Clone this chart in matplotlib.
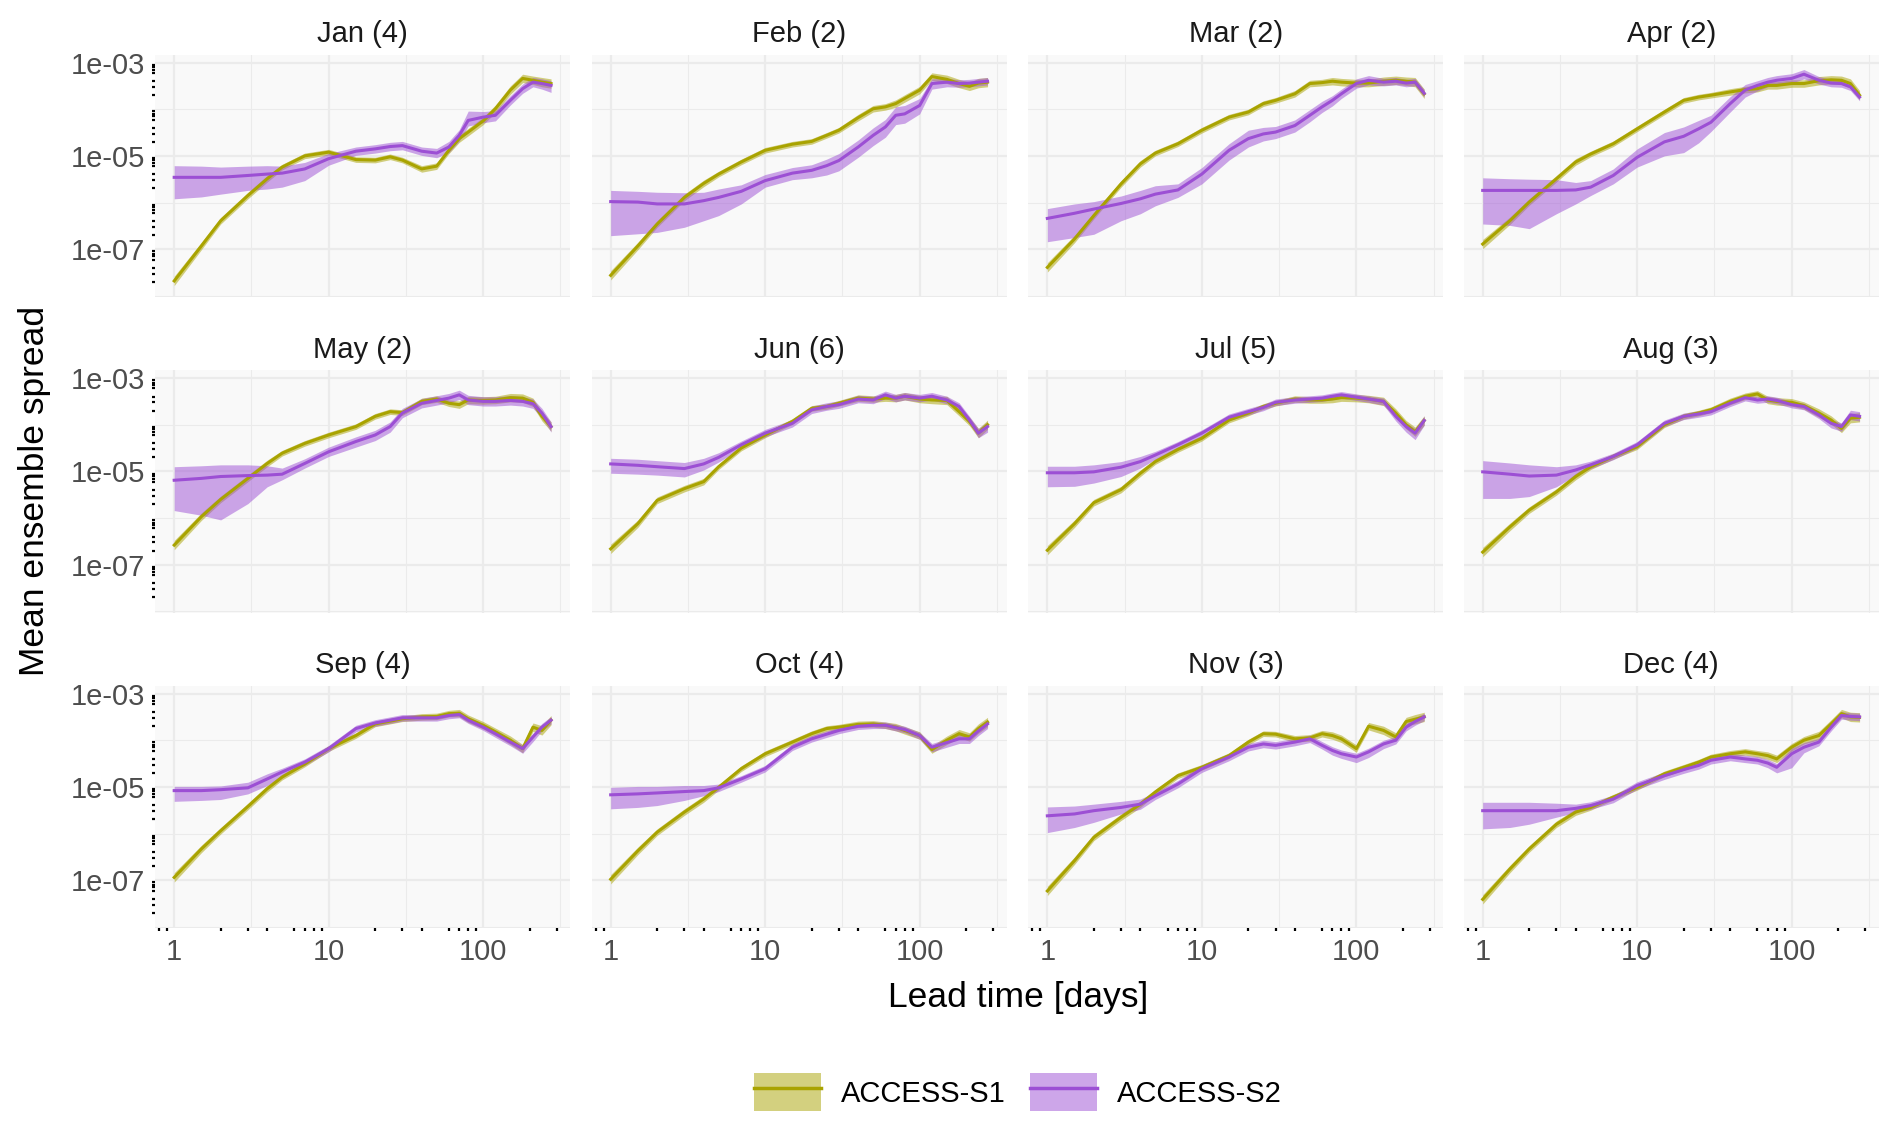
import matplotlib
matplotlib.use("Agg")
import numpy as np
import matplotlib.pyplot as plt
from matplotlib.patches import Patch
from matplotlib.lines import Line2D
from matplotlib.ticker import FixedLocator, FixedFormatter, NullFormatter

plt.rcParams['font.family'] = ['Liberation Sans', 'DejaVu Sans']

# panel titles (month and number of start dates)
panels = ["Jan (4)", "Feb (2)", "Mar (2)", "Apr (2)", "May (2)", "Jun (6)",
          "Jul (5)", "Aug (3)", "Sep (4)", "Oct (4)", "Nov (3)", "Dec (4)"]

# lead times [days] at which the curves were read
lead_days = [1, 1.5, 2, 3, 4, 5, 7, 10, 15, 20, 25, 30, 40, 50, 60, 70, 80,
             100, 120, 150, 180, 210, 240, 275]

# ACCESS-S1: log10 of mean ensemble spread
s1_mean = {
    "Jan (4)": [-7.68, -6.93, -6.39, -5.85, -5.49, -5.24, -5.0, -4.92, -5.08, -5.09, -5.02, -5.09,
                -5.28, -5.22, -4.88, -4.63, -4.49, -4.25, -3.99, -3.59, -3.34, -3.38, -3.42, -3.45],
    "Feb (2)": [-7.56, -6.93, -6.46, -5.89, -5.59, -5.39, -5.13, -4.88, -4.75, -4.69, -4.56, -4.45,
                -4.18, -3.99, -3.95, -3.88, -3.77, -3.59, -3.3, -3.36, -3.45, -3.51, -3.44, -3.42],
    "Mar (2)": [-7.39, -6.78, -6.28, -5.6, -5.17, -4.94, -4.74, -4.45, -4.17, -4.06, -3.88, -3.81,
                -3.67, -3.45, -3.43, -3.4, -3.42, -3.44, -3.44, -3.4, -3.38, -3.4, -3.42, -3.67],
    "Apr (2)": [-6.89, -6.39, -5.99, -5.49, -5.13, -4.96, -4.74, -4.42, -4.06, -3.81, -3.74, -3.7,
                -3.63, -3.58, -3.56, -3.49, -3.49, -3.45, -3.45, -3.39, -3.37, -3.38, -3.45, -3.7],
    "May (2)": [-6.58, -5.97, -5.6, -5.15, -4.83, -4.61, -4.4, -4.22, -4.04, -3.82, -3.72, -3.74,
                -3.5, -3.45, -3.54, -3.57, -3.47, -3.48, -3.47, -3.42, -3.43, -3.52, -3.82, -4.04],
    "Jun (6)": [-6.66, -6.12, -5.62, -5.37, -5.22, -4.9, -4.5, -4.22, -3.93, -3.65, -3.61, -3.54,
                -3.43, -3.45, -3.43, -3.43, -3.39, -3.45, -3.47, -3.48, -3.72, -3.93, -4.18, -4.0],
    "Jul (5)": [-6.69, -6.12, -5.67, -5.39, -5.04, -4.79, -4.53, -4.29, -3.9, -3.75, -3.61, -3.54,
                -3.45, -3.47, -3.47, -3.45, -3.42, -3.43, -3.45, -3.5, -3.75, -4.0, -4.15, -3.91],
    "Aug (3)": [-6.73, -6.19, -5.83, -5.44, -5.11, -4.9, -4.68, -4.47, -4.0, -3.82, -3.75, -3.68,
                -3.5, -3.39, -3.34, -3.47, -3.5, -3.52, -3.59, -3.75, -3.9, -4.08, -3.86, -3.84],
    "Sep (4)": [-6.94, -6.33, -5.94, -5.42, -5.04, -4.79, -4.51, -4.18, -3.9, -3.65, -3.59, -3.54,
                -3.5, -3.49, -3.43, -3.42, -3.54, -3.68, -3.82, -4.0, -4.18, -3.72, -3.79, -3.57],
    "Oct (4)": [-6.98, -6.37, -5.97, -5.54, -5.26, -5.01, -4.61, -4.29, -4.04, -3.86, -3.75, -3.72,
                -3.66, -3.65, -3.68, -3.72, -3.79, -3.9, -4.2, -4.0, -3.86, -3.93, -3.75, -3.61],
    "Nov (3)": [-7.23, -6.58, -6.08, -5.65, -5.37, -5.11, -4.76, -4.58, -4.33, -4.04, -3.86, -3.87,
                -3.97, -3.95, -3.86, -3.9, -3.97, -4.18, -3.7, -3.79, -3.93, -3.6, -3.55, -3.5],
    "Dec (4)": [-7.41, -6.76, -6.33, -5.8, -5.54, -5.44, -5.22, -5.01, -4.72, -4.58, -4.47, -4.36,
                -4.29, -4.25, -4.29, -4.33, -4.4, -4.15, -4.0, -3.9, -3.65, -3.43, -3.5, -3.51],
}
# half width of the S1 ribbon [decades]
s1_band = [0.1, 0.08, 0.07, 0.07, 0.07, 0.06, 0.06, 0.06, 0.06, 0.06, 0.06, 0.06,
           0.07, 0.07, 0.07, 0.08, 0.08, 0.08, 0.08, 0.09, 0.09, 0.09, 0.1, 0.1]

# ACCESS-S2: log10 of mean ensemble spread
s2_mean = {
    "Jan (4)": [-5.46, -5.46, -5.46, -5.42, -5.39, -5.37, -5.28, -5.06, -4.9, -4.85, -4.8, -4.78,
                -4.9, -4.94, -4.81, -4.56, -4.24, -4.17, -4.13, -3.81, -3.56, -3.42, -3.45, -3.49],
    "Feb (2)": [-5.98, -5.99, -6.03, -6.03, -5.96, -5.89, -5.76, -5.53, -5.37, -5.31, -5.21, -5.1,
                -4.81, -4.56, -4.38, -4.13, -4.1, -3.92, -3.45, -3.42, -3.45, -3.44, -3.42, -3.4],
    "Mar (2)": [-6.34, -6.23, -6.14, -6.02, -5.92, -5.82, -5.73, -5.39, -4.88, -4.63, -4.53, -4.49,
                -4.35, -4.13, -3.95, -3.81, -3.67, -3.45, -3.38, -3.42, -3.4, -3.44, -3.42, -3.66],
    "Apr (2)": [-5.74, -5.74, -5.74, -5.74, -5.73, -5.67, -5.42, -5.03, -4.7, -4.58, -4.42, -4.28,
                -3.88, -3.59, -3.49, -3.42, -3.38, -3.34, -3.25, -3.38, -3.44, -3.45, -3.52, -3.74],
    "May (2)": [-5.19, -5.15, -5.11, -5.09, -5.08, -5.06, -4.83, -4.58, -4.36, -4.22, -4.04, -3.75,
                -3.54, -3.48, -3.43, -3.36, -3.47, -3.5, -3.5, -3.48, -3.5, -3.55, -3.75, -4.04],
    "Jun (6)": [-4.84, -4.87, -4.9, -4.94, -4.84, -4.7, -4.43, -4.18, -3.97, -3.68, -3.61, -3.57,
                -3.45, -3.47, -3.36, -3.43, -3.39, -3.43, -3.39, -3.47, -3.61, -3.9, -4.18, -4.04],
    "Jul (5)": [-5.03, -5.03, -5.01, -4.91, -4.79, -4.65, -4.43, -4.18, -3.84, -3.72, -3.63, -3.52,
                -3.47, -3.45, -3.43, -3.39, -3.36, -3.41, -3.45, -3.5, -3.82, -4.04, -4.18, -3.91],
    "Aug (3)": [-5.01, -5.06, -5.1, -5.08, -4.97, -4.86, -4.68, -4.43, -3.97, -3.82, -3.77, -3.72,
                -3.54, -3.42, -3.47, -3.45, -3.48, -3.57, -3.61, -3.79, -3.97, -4.04, -3.79, -3.82],
    "Sep (4)": [-5.08, -5.08, -5.06, -5.02, -4.83, -4.68, -4.47, -4.18, -3.75, -3.63, -3.57, -3.52,
                -3.52, -3.52, -3.47, -3.45, -3.57, -3.72, -3.86, -4.04, -4.18, -3.93, -3.72, -3.57],
    "Oct (4)": [-5.17, -5.15, -5.13, -5.1, -5.08, -5.02, -4.83, -4.61, -4.15, -3.97, -3.87, -3.79,
                -3.7, -3.68, -3.68, -3.73, -3.77, -3.9, -4.15, -4.05, -3.97, -3.97, -3.8, -3.65],
    "Nov (3)": [-5.62, -5.58, -5.51, -5.44, -5.37, -5.19, -4.94, -4.61, -4.36, -4.15, -4.08, -4.11,
                -4.04, -3.97, -4.11, -4.22, -4.29, -4.36, -4.25, -4.08, -4.0, -3.72, -3.6, -3.5],
    "Dec (4)": [-5.51, -5.51, -5.51, -5.51, -5.46, -5.4, -5.26, -4.97, -4.76, -4.63, -4.54, -4.43,
                -4.36, -4.4, -4.43, -4.49, -4.58, -4.29, -4.15, -4.04, -3.72, -3.47, -3.49, -3.5],
}
# S2 ribbon extent above / below the mean [decades]
s2_up = {
    "Jan (4)": [0.25, 0.24, 0.22, 0.2, 0.18, 0.15, 0.14, 0.11, 0.09, 0.09, 0.09, 0.09,
                0.09, 0.1, 0.12, 0.12, 0.2, 0.12, 0.1, 0.1, 0.1, 0.1, 0.1, 0.1],
    "Feb (2)": [0.24, 0.23, 0.25, 0.24, 0.18, 0.18, 0.14, 0.13, 0.12, 0.12, 0.14, 0.15,
                0.15, 0.16, 0.16, 0.18, 0.18, 0.15, 0.1, 0.08, 0.08, 0.08, 0.08, 0.08],
    "Mar (2)": [0.21, 0.2, 0.16, 0.16, 0.18, 0.18, 0.13, 0.14, 0.14, 0.18, 0.14, 0.12,
                0.12, 0.12, 0.12, 0.1, 0.1, 0.1, 0.1, 0.08, 0.08, 0.08, 0.08, 0.08],
    "Apr (2)": [0.27, 0.25, 0.24, 0.23, 0.16, 0.14, 0.14, 0.18, 0.2, 0.2, 0.18, 0.15,
                0.15, 0.12, 0.1, 0.1, 0.1, 0.1, 0.1, 0.08, 0.08, 0.08, 0.08, 0.08],
    "May (2)": [0.29, 0.27, 0.25, 0.23, 0.2, 0.13, 0.1, 0.1, 0.1, 0.1, 0.1, 0.1,
                0.1, 0.1, 0.1, 0.1, 0.1, 0.1, 0.1, 0.1, 0.1, 0.1, 0.1, 0.1],
    "Jun (6)": [0.12, 0.13, 0.13, 0.13, 0.12, 0.1, 0.08, 0.08, 0.08, 0.08, 0.08, 0.08,
                0.08, 0.08, 0.08, 0.08, 0.08, 0.08, 0.08, 0.08, 0.08, 0.08, 0.1, 0.1],
    "Jul (5)": [0.14, 0.14, 0.15, 0.12, 0.11, 0.08, 0.07, 0.07, 0.07, 0.07, 0.07, 0.07,
                0.07, 0.07, 0.07, 0.07, 0.07, 0.07, 0.07, 0.07, 0.08, 0.08, 0.1, 0.1],
    "Aug (3)": [0.24, 0.24, 0.24, 0.18, 0.11, 0.08, 0.07, 0.07, 0.07, 0.07, 0.07, 0.07,
                0.07, 0.07, 0.07, 0.07, 0.07, 0.07, 0.07, 0.07, 0.08, 0.08, 0.1, 0.1],
    "Sep (4)": [0.09, 0.09, 0.08, 0.12, 0.11, 0.08, 0.07, 0.07, 0.07, 0.07, 0.07, 0.07,
                0.07, 0.07, 0.07, 0.07, 0.07, 0.07, 0.07, 0.07, 0.08, 0.08, 0.08, 0.08],
    "Oct (4)": [0.16, 0.16, 0.14, 0.13, 0.11, 0.08, 0.07, 0.07, 0.07, 0.07, 0.07, 0.07,
                0.07, 0.07, 0.07, 0.07, 0.07, 0.07, 0.08, 0.08, 0.1, 0.1, 0.1, 0.1],
    "Nov (3)": [0.19, 0.17, 0.14, 0.13, 0.11, 0.08, 0.08, 0.08, 0.08, 0.08, 0.08, 0.08,
                0.08, 0.08, 0.08, 0.08, 0.08, 0.08, 0.08, 0.08, 0.08, 0.08, 0.08, 0.08],
    "Dec (4)": [0.18, 0.18, 0.18, 0.16, 0.09, 0.08, 0.08, 0.08, 0.08, 0.08, 0.08, 0.08,
                0.08, 0.08, 0.08, 0.08, 0.08, 0.12, 0.1, 0.08, 0.08, 0.08, 0.08, 0.08],
}
s2_down = {
    "Jan (4)": [0.46, 0.42, 0.36, 0.32, 0.32, 0.3, 0.25, 0.14, 0.09, 0.09, 0.09, 0.09,
                0.09, 0.1, 0.12, 0.12, 0.12, 0.12, 0.12, 0.1, 0.1, 0.1, 0.12, 0.15],
    "Feb (2)": [0.73, 0.68, 0.61, 0.5, 0.43, 0.39, 0.27, 0.14, 0.14, 0.16, 0.2, 0.22,
                0.22, 0.22, 0.22, 0.2, 0.2, 0.18, 0.12, 0.1, 0.08, 0.08, 0.08, 0.08],
    "Mar (2)": [0.5, 0.52, 0.54, 0.37, 0.32, 0.25, 0.16, 0.21, 0.21, 0.18, 0.15, 0.14,
                0.14, 0.14, 0.12, 0.12, 0.1, 0.1, 0.1, 0.08, 0.08, 0.08, 0.08, 0.08],
    "Apr (2)": [0.72, 0.75, 0.82, 0.5, 0.3, 0.18, 0.18, 0.21, 0.3, 0.35, 0.3, 0.2,
                0.18, 0.15, 0.12, 0.1, 0.1, 0.1, 0.1, 0.08, 0.08, 0.08, 0.08, 0.08],
    "May (2)": [0.65, 0.79, 0.93, 0.6, 0.25, 0.12, 0.1, 0.1, 0.12, 0.12, 0.12, 0.1,
                0.1, 0.1, 0.1, 0.1, 0.1, 0.1, 0.1, 0.1, 0.1, 0.1, 0.1, 0.12],
    "Jun (6)": [0.2, 0.19, 0.18, 0.18, 0.13, 0.1, 0.08, 0.08, 0.08, 0.08, 0.08, 0.08,
                0.08, 0.08, 0.08, 0.08, 0.08, 0.08, 0.08, 0.08, 0.08, 0.08, 0.1, 0.12],
    "Jul (5)": [0.3, 0.29, 0.24, 0.2, 0.14, 0.09, 0.07, 0.07, 0.07, 0.07, 0.07, 0.07,
                0.07, 0.07, 0.07, 0.07, 0.07, 0.07, 0.07, 0.08, 0.1, 0.12, 0.14, 0.1],
    "Aug (3)": [0.57, 0.52, 0.44, 0.25, 0.11, 0.08, 0.07, 0.07, 0.07, 0.07, 0.07, 0.07,
                0.07, 0.07, 0.07, 0.07, 0.07, 0.07, 0.07, 0.08, 0.1, 0.1, 0.1, 0.1],
    "Sep (4)": [0.23, 0.21, 0.21, 0.13, 0.14, 0.09, 0.07, 0.07, 0.07, 0.07, 0.07, 0.07,
                0.07, 0.07, 0.07, 0.07, 0.07, 0.07, 0.08, 0.08, 0.1, 0.1, 0.08, 0.08],
    "Oct (4)": [0.3, 0.29, 0.27, 0.19, 0.11, 0.08, 0.07, 0.07, 0.07, 0.07, 0.07, 0.07,
                0.07, 0.07, 0.07, 0.07, 0.07, 0.08, 0.1, 0.1, 0.1, 0.1, 0.1, 0.1],
    "Nov (3)": [0.36, 0.29, 0.25, 0.14, 0.11, 0.08, 0.08, 0.08, 0.08, 0.08, 0.08, 0.08,
                0.08, 0.08, 0.08, 0.1, 0.1, 0.12, 0.12, 0.1, 0.08, 0.08, 0.08, 0.08],
    "Dec (4)": [0.39, 0.36, 0.29, 0.14, 0.09, 0.08, 0.08, 0.08, 0.08, 0.08, 0.08, 0.08,
                0.08, 0.08, 0.08, 0.1, 0.12, 0.3, 0.12, 0.08, 0.08, 0.08, 0.08, 0.08],
}

col_s1 = '#A9A300'
col_s2 = '#9C4FD4'
grid_col = '#EBEBEB'

fig = plt.figure(figsize=(18.92, 11.26), dpi=100)

lefts = [0.0821, 0.3128, 0.5436, 0.7737]
bottoms = [0.736, 0.4558, 0.1756]
w, h = 0.2192, 0.2155

x_minor = [m * 10.0 ** k for k in range(-1, 3) for m in (2, 3, 4, 6, 7, 8, 9)]
y_minor = [m * 10.0 ** k for k in range(-9, -2) for m in (2, 3, 4, 6, 7, 8, 9)]

x = np.array(lead_days)
for i, name in enumerate(panels):
    r, c = divmod(i, 4)
    ax = fig.add_axes([lefts[c], bottoms[r], w, h])
    ax.set_facecolor('#F9F9F9')
    ax.set_xscale('log')
    ax.set_yscale('log')
    ax.set_xlim(0.755, 365)
    ax.set_ylim(10 ** -8.03, 10 ** -2.83)
    for s in ax.spines.values():
        s.set_visible(False)

    # ggplot-like grid
    for v in [1, 10, 100]:
        ax.axvline(v, color=grid_col, lw=1.6, zorder=0)
    for v in [10 ** 0.5, 10 ** 1.5, 10 ** 2.5]:
        ax.axvline(v, color=grid_col, lw=0.8, zorder=0)
    for v in [1e-3, 1e-5, 1e-7]:
        ax.axhline(v, color=grid_col, lw=1.6, zorder=0)
    for v in [1e-4, 1e-6, 1e-8]:
        ax.axhline(v, color=grid_col, lw=0.8, zorder=0)

    m1 = np.array(s1_mean[name])
    b1 = np.array(s1_band)
    ax.fill_between(x, 10 ** (m1 - b1), 10 ** (m1 + b1), color=col_s1, alpha=0.5, lw=0, zorder=2)
    m2 = np.array(s2_mean[name])
    ax.fill_between(x, 10 ** (m2 - np.array(s2_down[name])), 10 ** (m2 + np.array(s2_up[name])),
                    color=col_s2, alpha=0.5, lw=0, zorder=2)
    ax.plot(x, 10 ** m1, color=col_s1, lw=2.2, zorder=3)
    ax.plot(x, 10 ** m2, color=col_s2, lw=2.2, zorder=3)

    ax.set_title(name, fontsize=21, color='#1A1A1A', pad=9)

    ax.xaxis.set_major_locator(FixedLocator([1, 10, 100]))
    ax.xaxis.set_major_formatter(FixedFormatter(['1', '10', '100']))
    ax.xaxis.set_minor_locator(FixedLocator(x_minor))
    ax.xaxis.set_minor_formatter(NullFormatter())
    ax.yaxis.set_major_locator(FixedLocator([1e-7, 1e-5, 1e-3]))
    ax.yaxis.set_major_formatter(FixedFormatter(['1e-07', '1e-05', '1e-03']))
    ax.yaxis.set_minor_locator(FixedLocator(y_minor))
    ax.yaxis.set_minor_formatter(NullFormatter())

    ax.tick_params(which='major', length=0, labelsize=21, labelcolor='#4D4D4D', pad=7)
    ax.tick_params(which='minor', length=2, width=1.6, color='black', direction='out')
    if c != 0:
        ax.tick_params(axis='y', which='both', labelleft=False)
        ax.tick_params(axis='y', which='minor', length=0)
    if r != 2:
        ax.tick_params(axis='x', which='both', labelbottom=False)
        ax.tick_params(axis='x', which='minor', length=0)

fig.text(0.538, 0.114, 'Lead time [days]', ha='center', va='center', fontsize=25.5)
fig.text(0.018, 0.564, 'Mean ensemble spread', ha='center', va='center',
         rotation=90, fontsize=25.5)

handles = [
    (Patch(facecolor=col_s1, alpha=0.5, edgecolor='none'), Line2D([], [], color=col_s1, lw=2.5)),
    (Patch(facecolor=col_s2, alpha=0.5, edgecolor='none'), Line2D([], [], color=col_s2, lw=2.5)),
]
fig.legend(handles, ['ACCESS-S1', 'ACCESS-S2'], loc='center', bbox_to_anchor=(0.538, 0.030),
           ncol=2, frameon=False, fontsize=21, handlelength=2.3, handleheight=1.6,
           handletextpad=0.7, columnspacing=0.8)

fig.savefig('out.png', dpi=100)
